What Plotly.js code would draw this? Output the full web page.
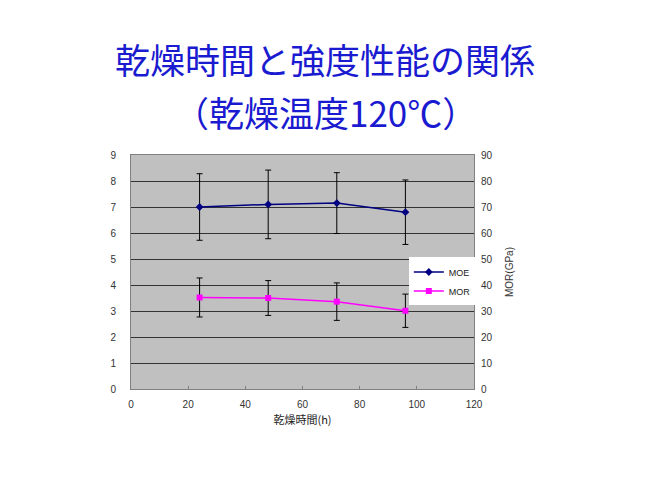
<!DOCTYPE html>
<html><head><meta charset="utf-8">
<script src="https://cdn.plot.ly/plotly-3.0.1.min.js"></script>
<style>html,body{margin:0;padding:0;background:#fff}#c{width:650px;height:487px}</style>
</head><body><div id="c"></div>
<script>
const hours = [24, 48, 72, 96];
const moe = [7.0, 7.1, 7.15, 6.8];
const moeErr = [1.28, 1.32, 1.17, 1.24];
const mor = [35.2, 35.0, 33.6, 30.1];
const morErr = [7.5, 6.7, 7.2, 6.4];
const leftTicks = [0,1,2,3,4,5,6,7,8,9];
const rightTicks = [0,10,20,30,40,50,60,70,80,90];
const xTicks = [0,20,40,60,80,100,120];
const titleLines = ['乾燥時間と強度性能の関係', '（乾燥温度120℃）'];

const tickFont = {family:'Liberation Sans, Arial, sans-serif', size:10, color:'#333'};
const titleFont = {family:'Noto Sans CJK JP', size:35, color:'#1a1ad0'};
const traces = [
  {x:hours, y:moe, name:'MOE', type:'scatter', mode:'lines+markers', yaxis:'y',
   line:{color:'#000080', width:1.5}, marker:{symbol:'diamond', size:6, color:'#000080'},
   error_y:{type:'data', array:moeErr, visible:true, color:'#000', thickness:1, width:3}},
  {x:hours, y:mor, name:'MOR', type:'scatter', mode:'lines+markers', yaxis:'y2',
   line:{color:'#ff00ff', width:1.5}, marker:{symbol:'square', size:6, color:'#ff00ff'},
   error_y:{type:'data', array:morErr, visible:true, color:'#000', thickness:1, width:3}}
];
const layout = {
  width:650, height:487,
  margin:{l:131, r:176, t:155, b:98},
  paper_bgcolor:'#fff', plot_bgcolor:'#c0c0c0',
  showlegend:true,
  annotations:[
    {text:titleLines[0], xref:'paper', yref:'paper', x:0.5656, y:1.412, xanchor:'center', yanchor:'middle', showarrow:false, font:titleFont},
    {text:titleLines[1], xref:'paper', yref:'paper', x:0.5656, y:1.187, xanchor:'center', yanchor:'middle', showarrow:false, font:titleFont}
  ],
  xaxis:{range:[0,120], tickvals:xTicks, ticktext:xTicks.map(String), showgrid:false, zeroline:false,
    showline:true, linecolor:'#808080', mirror:true, ticks:'inside', ticklen:3, tickcolor:'#808080',
    tickfont:tickFont, ticklabelstandoff:6,
    title:{text:'乾燥時間(h)', font:{family:'Noto Sans CJK JP', size:11, color:'#222'}, standoff:7}},
  yaxis:{range:[0,9], tickvals:leftTicks, ticktext:leftTicks.map(String), showgrid:true, gridcolor:'#333', gridwidth:1,
    zeroline:false, showline:true, linecolor:'#808080', mirror:true, ticks:'', tickfont:tickFont, ticklabelstandoff:12},
  yaxis2:{range:[0,90], tickvals:rightTicks, ticktext:rightTicks.map(String), overlaying:'y', side:'right',
    showgrid:false, zeroline:false, ticks:'', tickfont:tickFont, ticklabelstandoff:6,
    title:{text:'MOR(GPa)', font:{family:'Liberation Sans, Arial, sans-serif', size:10, color:'#333'}, standoff:14}},
  legend:{x:0.81, y:0.562, xanchor:'left', yanchor:'top', bgcolor:'#fff', borderwidth:0,
    font:{family:'Liberation Sans, Arial, sans-serif', size:9, color:'#222'}, tracegroupgap:0, itemwidth:30}
};
Plotly.newPlot('c', traces, layout, {displayModeBar:false, staticPlot:true});
</script></body></html>
